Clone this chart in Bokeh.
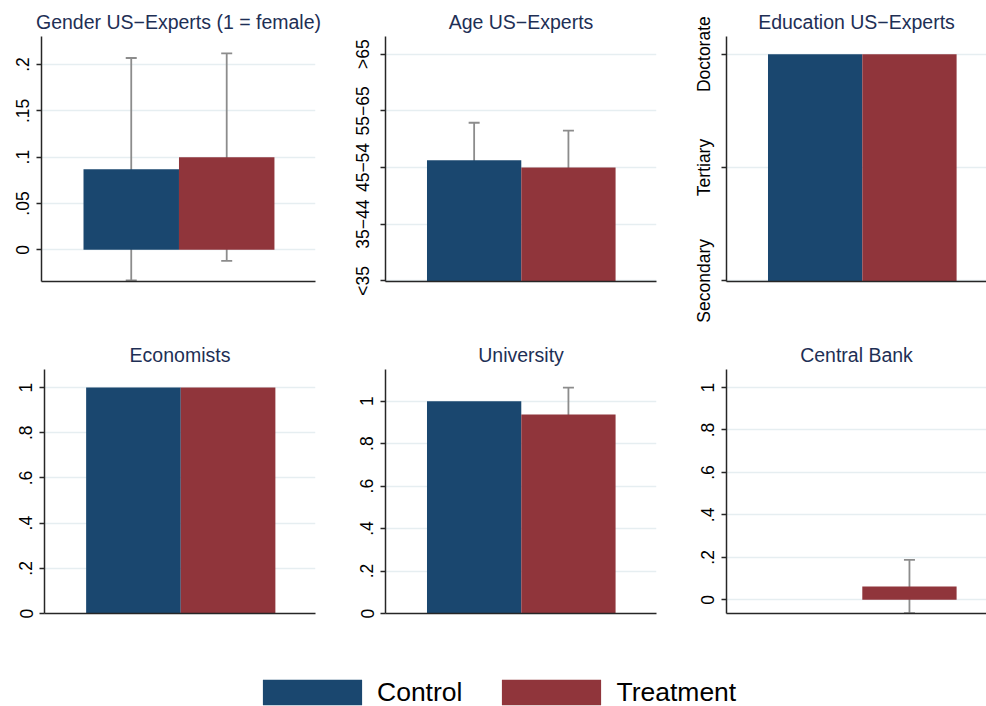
from bokeh.plotting import figure
from bokeh.layouts import column, row
from bokeh.models import (ColumnDataSource, Whisker, TeeHead, FixedTicker,
                          Legend, LegendItem, Range1d)
from bokeh.embed import file_html
from bokeh.resources import INLINE

# ---------------- data ----------------
groups = ["Control", "Treatment"]
colors = ["#1a476f", "#90353b"]
xpos = [0, 1]

gender_mean = [0.087, 0.100]
gender_lo = [-0.033, -0.012]
gender_hi = [0.207, 0.212]
gender_ticks = [0, 0.05, 0.1, 0.15, 0.2]
gender_labels = ["0", ".05", ".1", ".15", ".2"]

age_mean = [3.13, 3.00]
age_lo = [2.46, 2.33]
age_hi = [3.79, 3.65]
age_ticks = [1, 2, 3, 4, 5]
age_labels = ["<35", "35\u221244", "45\u221254", "55\u221265", ">65"]

edu_mean = [3.0, 3.0]
edu_lo = [3.0, 3.0]
edu_hi = [3.0, 3.0]
edu_ticks = [1, 2, 3]
edu_labels = ["Secondary", "Tertiary", "Doctorate"]

econ_mean = [1.0, 1.0]
econ_lo = [1.0, 1.0]
econ_hi = [1.0, 1.0]

univ_mean = [1.0, 0.9375]
univ_lo = [1.0, 0.812]
univ_hi = [1.0, 1.064]

cb_mean = [0.0, 0.0625]
cb_lo = [0.0, -0.063]
cb_hi = [0.0, 0.188]

share_ticks = [0, 0.2, 0.4, 0.6, 0.8, 1]
share_labels = ["0", ".2", ".4", ".6", ".8", "1"]

FONT = "Liberation Sans"
TITLE_COLOR = "#1e2f55"
AXIS_COLOR = "#262626"
GRID_COLOR = "#e6eef1"
ERR_COLOR = "#8c8c8c"


def panel(title, mean, lo, hi, ticks, labels, base, y_start, y_end, x_end,
          width, height, bl, br, bt, bb, title_offset=0):
    p = figure(width=width, height=height,
               x_range=Range1d(-0.94, x_end), y_range=Range1d(y_start, y_end),
               output_backend="svg", toolbar_location=None,
               min_border_left=bl, min_border_right=br,
               min_border_top=bt, min_border_bottom=bb)
    p.outline_line_color = None
    p.background_fill_color = "white"
    p.border_fill_color = "white"

    p.title.text = title
    p.title.text_font = FONT
    p.title.text_font_size = "19.5px"
    p.title.text_font_style = "normal"
    p.title.text_color = TITLE_COLOR
    p.title.align = "center"
    p.title.offset = title_offset
    p.title.standoff = 7

    src = ColumnDataSource(dict(x=xpos, top=mean,
                                bottom=[base if base is not None else y_start] * len(mean),
                                color=colors))
    p.vbar(x="x", top="top", bottom="bottom", width=1.0, fill_color="color",
           line_color=None, source=src)

    ex, el, eh = [], [], []
    for x, l, h in zip(xpos, lo, hi):
        if h != l:
            ex.append(x); el.append(l); eh.append(h)
    if ex:
        esrc = ColumnDataSource(dict(x=ex, lower=el, upper=eh))
        w = Whisker(base="x", lower="lower", upper="upper", source=esrc,
                    dimension="height", line_color=ERR_COLOR, line_width=1.8,
                    upper_head=TeeHead(size=11, line_color=ERR_COLOR, line_width=1.8),
                    lower_head=TeeHead(size=11, line_color=ERR_COLOR, line_width=1.8))
        p.add_layout(w)

    # y axis
    yax = p.yaxis[0]
    yax.ticker = FixedTicker(ticks=ticks)
    yax.major_label_overrides = {t: s for t, s in zip(ticks, labels)}
    yax.major_label_orientation = "vertical"
    yax.major_label_text_font = FONT
    yax.major_label_text_font_size = "17.5px"
    yax.major_label_text_color = "#000000"
    yax.major_label_standoff = 7
    yax.axis_line_color = AXIS_COLOR
    yax.axis_line_width = 1.5
    yax.major_tick_line_color = AXIS_COLOR
    yax.major_tick_line_width = 1.5
    yax.major_tick_out = 5
    yax.major_tick_in = 0
    yax.minor_tick_line_color = None

    # x axis: line only
    xax = p.xaxis[0]
    xax.ticker = FixedTicker(ticks=[])
    xax.major_label_text_font_size = "0px"
    xax.major_tick_line_color = None
    xax.minor_tick_line_color = None
    xax.axis_line_color = AXIS_COLOR
    xax.axis_line_width = 1.5

    p.xgrid.visible = False
    p.ygrid.ticker = FixedTicker(ticks=ticks)
    p.ygrid.grid_line_color = GRID_COLOR
    p.ygrid.grid_line_width = 1.3
    return p


# row 1 (frame y 36..281)
p1 = panel("Gender US\u2212Experts (1 = female)", gender_mean, gender_lo, gender_hi,
           gender_ticks, gender_labels, 0, -0.0342, 0.2302, 1.93,
           350, 331, 41, 35, 36, 50)
p2 = panel("Age US\u2212Experts", age_mean, age_lo, age_hi,
           age_ticks, age_labels, None, 0.988, 5.313, 1.934,
           340, 331, 35, 34, 36, 50)
p3 = panel("Education US\u2212Experts", edu_mean, edu_lo, edu_hi,
           edu_ticks, edu_labels, None, 0.994, 3.156, 1.817,
           296, 331, 36, 0, 36, 50, title_offset=5)

# row 2 (frame y 369..613)
p4 = panel("Economists", econ_mean, econ_lo, econ_hi,
           share_ticks, share_labels, 0, 0.0, 1.08, 1.924,
           350, 312, 44, 35, 38, 30)
p5 = panel("University", univ_mean, univ_lo, univ_hi,
           share_ticks, share_labels, 0, 0.0, 1.149, 1.934,
           340, 312, 35, 34, 38, 30)
p6 = panel("Central Bank", cb_mean, cb_lo, cb_hi,
           share_ticks, share_labels, 0, -0.0645, 1.085, 1.817,
           296, 312, 36, 0, 38, 30, title_offset=5)

# legend (renderers kept outside the visible range; only their legend swatches show)
lf = figure(width=986, height=63, output_backend="svg", toolbar_location=None,
            min_border=0, x_range=Range1d(0, 1), y_range=Range1d(0, 1),
            x_axis_location=None, y_axis_location=None)
lf.grid.visible = False
lf.outline_line_color = None
rs = [lf.vbar(x=[50], top=[60], bottom=[50], width=1, fill_color=c, line_color=None)
      for c in colors]
legend = Legend(items=[LegendItem(label=g, renderers=[r]) for g, r in zip(groups, rs)],
                orientation="horizontal", location=(250, -2),
                glyph_width=124, glyph_height=32, label_standoff=3, spacing=27,
                padding=0, margin=0, border_line_color=None,
                background_fill_alpha=0,
                label_text_font=FONT, label_text_font_size="26.5px",
                label_text_color="#000000")
lf.add_layout(legend)

layout = column(row(p1, p2, p3), row(p4, p5, p6), lf)

open("out.html", "w").write(file_html(layout, INLINE))
